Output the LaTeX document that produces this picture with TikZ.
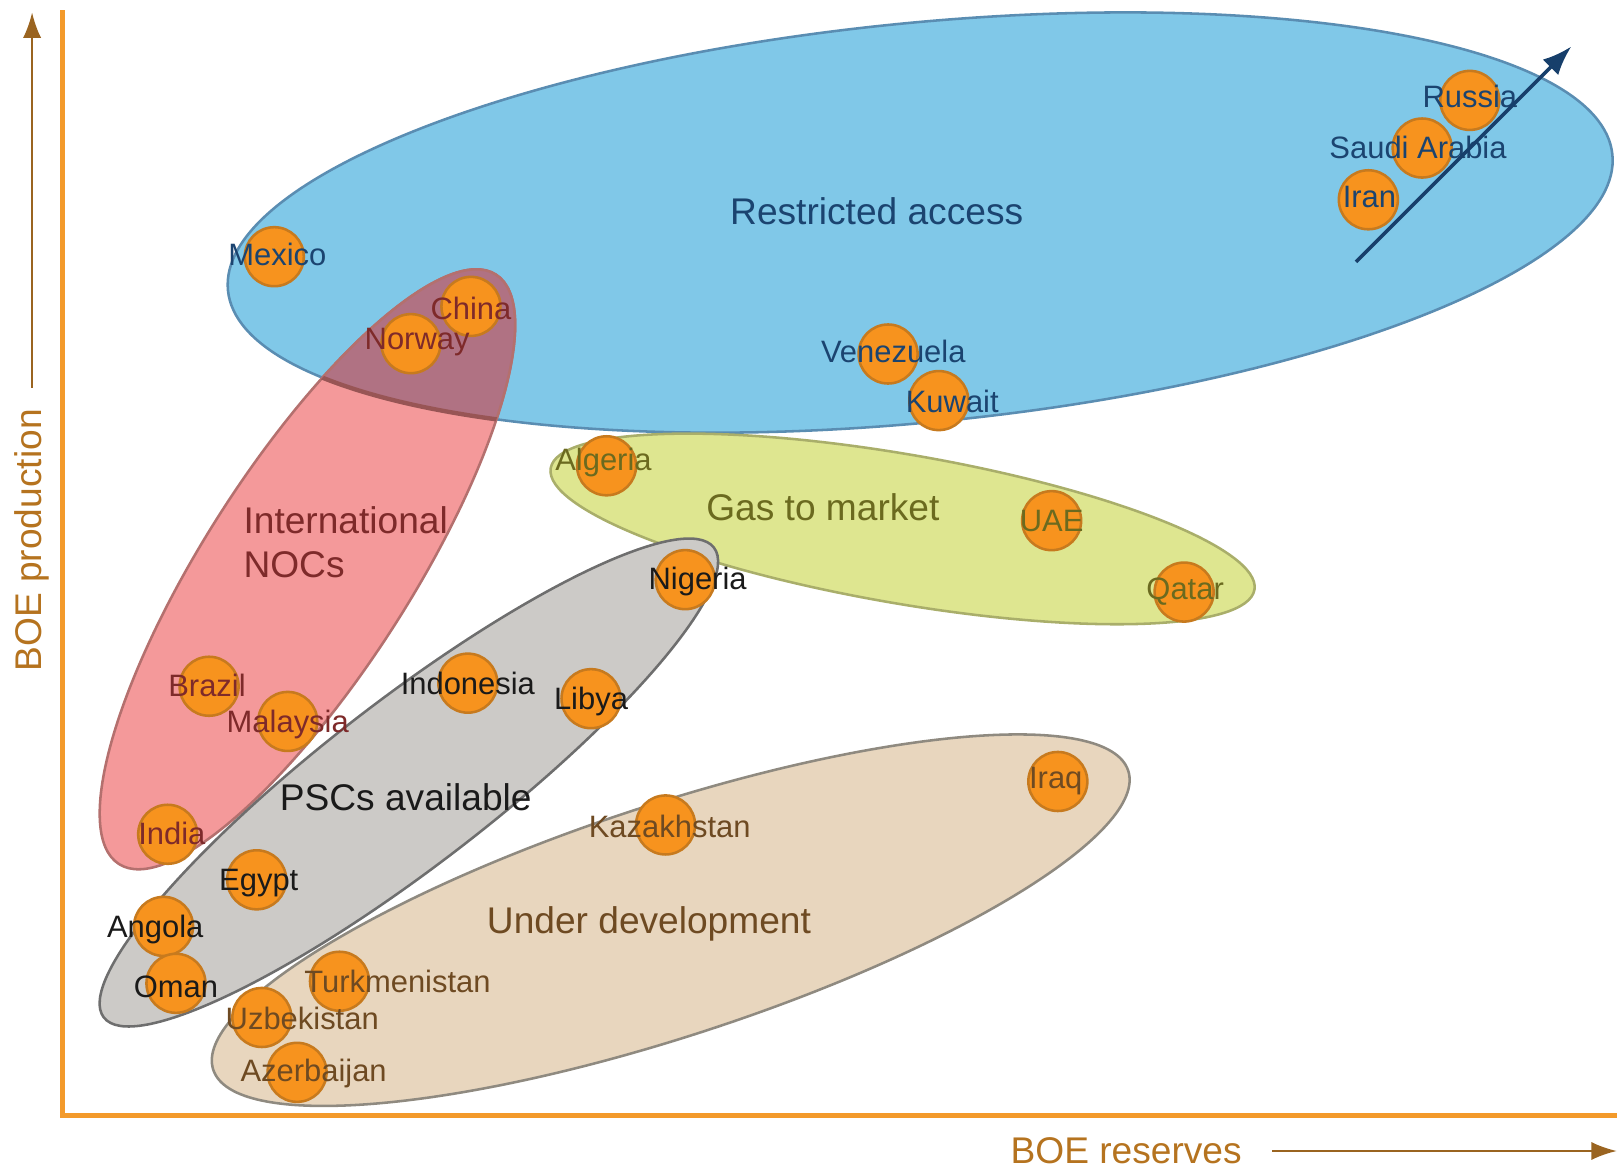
\documentclass[tikz,border=0pt]{standalone}
\usepackage{fontspec}
\setmainfont{Liberation Sans}
\usepackage{tikz}
\usetikzlibrary{positioning}
\usetikzlibrary{arrows.meta}

\definecolor{axisorange}{HTML}{F39A2B}
\definecolor{axisbrown}{HTML}{B5731F}
\definecolor{arrowbrown}{HTML}{9A6420}
\definecolor{dotorange}{HTML}{F7931E}
\definecolor{dotedge}{HTML}{C77A1E}
\definecolor{restrictfill}{HTML}{80C8E8}
\definecolor{restrictedge}{HTML}{5A8DB2}
\definecolor{nocfill}{HTML}{F4999A}
\definecolor{nocedge}{HTML}{B4706E}
\definecolor{overlapfill}{HTML}{B07283}
\definecolor{gasfill}{HTML}{DEE690}
\definecolor{gasedge}{HTML}{A9AE6A}
\definecolor{pscfill}{HTML}{CCCAC7}
\definecolor{pscedge}{HTML}{6E6E6E}
\definecolor{devfill}{HTML}{E8D6BE}
\definecolor{devedge}{HTML}{8F8A80}
\definecolor{navytext}{HTML}{1B4470}
\definecolor{maroontext}{HTML}{7E2A2A}
\definecolor{olivetext}{HTML}{6B6A1F}
\definecolor{blacktext}{HTML}{1A1A1A}
\definecolor{browntext}{HTML}{6E4A22}
\definecolor{trendnavy}{HTML}{173F6B}

\begin{document}
\begin{tikzpicture}[x=0.01cm,y=0.01cm,
    country/.style={circle,fill=dotorange,draw=dotedge,line width=0.7pt,minimum size=0.57cm,inner sep=0pt},
    cname/.style={font=\fontsize{8.5}{10}\selectfont,inner sep=0pt},
    group/.style={font=\fontsize{10.2}{12.2}\selectfont,inner sep=0pt},
    axistext/.style={font=\fontsize{10.2}{12.2}\selectfont,text=axisbrown,inner sep=0pt},
    axisline/.style={draw=axisorange,line width=1.4pt},
    axisarrow/.style={draw=arrowbrown,line width=0.6pt,-{Latex[length=7pt,width=5pt]}},
    region/.style={line width=0.7pt}]

  \useasboundingbox (0,0) rectangle (1568,-1130);

  % groups
  \draw[region,fill=restrictfill,draw=restrictedge] (889,-215) ellipse [x radius=672, y radius=193, rotate=5.6];
  \draw[region,fill=nocfill,draw=nocedge] (297,-550) ellipse [x radius=338, y radius=100, rotate=57.4];
  \begin{scope}
    \clip (889,-215) ellipse [x radius=672, y radius=193, rotate=5.6];
    \fill[overlapfill] (297,-550) ellipse [x radius=338, y radius=100, rotate=57.4];
    \draw[region,draw=nocedge] (297,-550) ellipse [x radius=338, y radius=100, rotate=57.4];
  \end{scope}
  \begin{scope}
    \clip (297,-550) ellipse [x radius=338, y radius=100, rotate=57.4];
    \draw[line width=1.2pt,draw=maroontext!80] (889,-215) ellipse [x radius=672, y radius=193, rotate=5.6];
  \end{scope}
  \draw[region,fill=gasfill,draw=gasedge] (872,-511) ellipse [x radius=345, y radius=72, rotate=-9.8];
  \draw[region,fill=pscfill,draw=pscedge] (395,-756) ellipse [x radius=372, y radius=80, rotate=37.6];
  \draw[region,fill=devfill,draw=devedge] (648,-889) ellipse [x radius=465, y radius=112, rotate=18.1];

  \node at (847,-204) [group,text=navytext] (restricted) {Restricted access};
  \node at (334,-524) [group,text=maroontext,align=left] (nocs) {International\\NOCs};
  \node at (795,-490) [group,text=olivetext] (gas) {Gas to market};
  \node at (392,-770) [group,text=blacktext] (pscs) {PSCs available};
  \node at (627,-893) [group,text=browntext] (underdev) {Under development};

  % countries
  \foreach \id/\x/\y in {russia/1420/97, saudi/1374/143, iran/1322/193, mexico/265/248,
      china/455/296, norway/397/332, venezuela/858/342, kuwait/907/387,
      algeria/586/450, uae/1016/503, qatar/1144/572, nigeria/662/560,
      indonesia/452/660, libya/571/675, brazil/202/663, malaysia/278/697,
      india/162/806, egypt/248/850, angola/158/895, oman/170/950,
      turkmenistan/328/948, uzbekistan/253/983, azerbaijan/287/1036,
      kazakhstan/643/797, iraq/1022/755}
    \node at (\x,-\y) [country] (\id) {};

  \foreach \id/\x/\y/\name/\col in {russia/1420/93/Russia/navytext,
      saudi/1370/142/Saudi Arabia/navytext, iran/1323/190/Iran/navytext,
      mexico/268/246/Mexico/navytext, venezuela/863/340/Venezuela/navytext,
      kuwait/920/388/Kuwait/navytext, china/455/298/China/maroontext,
      norway/403/330/Norway/maroontext, brazil/200/662/Brazil/maroontext,
      malaysia/278/700/Malaysia/maroontext, india/166/805/India/maroontext,
      algeria/583/447/Algeria/olivetext, uae/1016/503/UAE/olivetext,
      qatar/1145/572/Qatar/olivetext, nigeria/674/562/Nigeria/blacktext,
      indonesia/452/660/Indonesia/blacktext, libya/571/678/Libya/blacktext,
      egypt/250/853/Egypt/blacktext, angola/150/898/Angola/blacktext,
      oman/170/953/Oman/blacktext, turkmenistan/384/948/Turkmenistan/browntext,
      uzbekistan/292/984/Uzbekistan/browntext, azerbaijan/303/1037/Azerbaijan/browntext,
      kazakhstan/647/798/Kazakhstan/browntext, iraq/1020/755/Iraq/browntext}
    \node at (\x,-\y) [cname,text=\col] (\id-name) {\name};

  \coordinate (trendstart) at (1310,-253);
  \coordinate (trendend) at (1518,-45);
  \draw[draw=trendnavy,line width=1pt,-{Latex[length=8pt,width=6pt]}] (trendstart) -- (trendend);

  % axes
  \coordinate (origin) at (60,-1078);
  \coordinate (ytop) at (60,-10);
  \coordinate (xend) at (1562,-1078);
  \draw[axisline] (ytop) -- (origin) -- (xend);

  \node at (31,-522) [axistext,rotate=90] (ylabel) {BOE production};
  \coordinate (ytip) at (31,-12);
  \draw[axisarrow,shorten <=0.2cm] (ylabel.east) -- (ytip);

  \node at (1088,-1112) [axistext] (xlabel) {BOE reserves};
  \coordinate (xtip) at (1562,-1112);
  \draw[axisarrow,shorten <=0.29cm] (xlabel.east) -- (xtip);
\end{tikzpicture}
\end{document}
